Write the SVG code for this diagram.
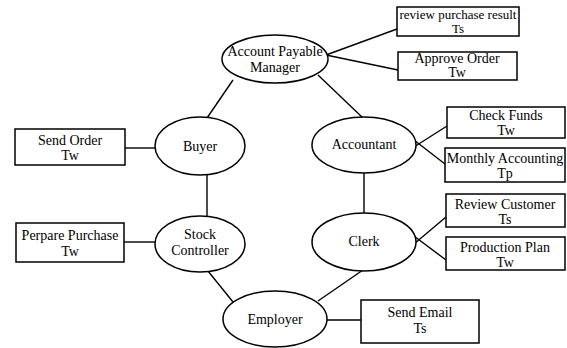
<svg xmlns="http://www.w3.org/2000/svg" width="567" height="348" viewBox="0 0 567 348">
  <style>
    .role ellipse { fill: #fff; stroke: #000; stroke-width: 1.5; }
    .task rect { fill: #fff; stroke: #000; stroke-width: 1.5; }
    text { font-family: 'Liberation Serif', 'DejaVu Serif', 'Times New Roman', serif; font-size: 14px; fill: #000; text-anchor: middle; }
    .sm { font-size: 13px; }
    #connectors line { stroke: #000; stroke-width: 1.4; }
  </style>
  <rect width="567" height="348" fill="#fff"/>

  <!-- connectors between roles and their tasks -->
  <g id="connectors">
    <line x1="326" y1="55" x2="397" y2="29"/>
    <line x1="326" y1="55" x2="398" y2="70"/>
    <line x1="233" y1="80" x2="207" y2="118"/>
    <line x1="318" y1="75" x2="363" y2="118"/>
    <line x1="125" y1="148" x2="156" y2="148"/>
    <line x1="207" y1="175" x2="207" y2="217"/>
    <line x1="124" y1="242" x2="156" y2="242"/>
    <line x1="208" y1="271" x2="233" y2="302"/>
    <line x1="363" y1="270" x2="318" y2="301"/>
    <line x1="327" y1="320" x2="361" y2="320"/>
    <line x1="364" y1="173" x2="364" y2="214"/>
    <line x1="414" y1="147" x2="447" y2="126"/>
    <line x1="414" y1="140" x2="445" y2="164"/>
    <line x1="414" y1="244" x2="446" y2="217"/>
    <line x1="414" y1="236" x2="446" y2="260"/>
  </g>

  <!-- roles -->
  <g id="account-payable-manager" class="role">
    <ellipse cx="275" cy="59" rx="53" ry="24"/>
    <text x="275" y="56">Account Payable</text>
    <text x="275" y="72">Manager</text>
  </g>
  <g id="buyer" class="role">
    <ellipse cx="200" cy="146" rx="45" ry="29"/>
    <text x="200" y="151">Buyer</text>
  </g>
  <g id="stock-controller" class="role">
    <ellipse cx="200" cy="244" rx="45" ry="28"/>
    <text x="200" y="239">Stock</text>
    <text x="200" y="255">Controller</text>
  </g>
  <g id="accountant" class="role">
    <ellipse cx="364" cy="145" rx="52" ry="28"/>
    <text x="364" y="149">Accountant</text>
  </g>
  <g id="clerk" class="role">
    <ellipse cx="364" cy="242" rx="52" ry="29"/>
    <text x="364" y="246">Clerk</text>
  </g>
  <g id="employer" class="role">
    <ellipse cx="275" cy="319" rx="52" ry="28"/>
    <text x="275" y="324">Employer</text>
  </g>

  <!-- tasks -->
  <g id="review-purchase-result" class="task">
    <rect x="397" y="7" width="122" height="29"/>
    <text class="sm" x="458" y="19">review purchase result</text>
    <text class="sm" x="458" y="33">Ts</text>
  </g>
  <g id="approve-order" class="task">
    <rect x="398" y="52" width="119" height="28"/>
    <text x="457" y="63">Approve Order</text>
    <text x="457" y="77">Tw</text>
  </g>
  <g id="check-funds" class="task">
    <rect x="447" y="107" width="118" height="31"/>
    <text x="506" y="120">Check Funds</text>
    <text x="506" y="135">Tw</text>
  </g>
  <g id="monthly-accounting" class="task">
    <rect x="445" y="148" width="120" height="34"/>
    <text x="505" y="163">Monthly Accounting</text>
    <text x="505" y="178">Tp</text>
  </g>
  <g id="review-customer" class="task">
    <rect x="446" y="194" width="119" height="33"/>
    <text x="505" y="209">Review Customer</text>
    <text x="505" y="224">Ts</text>
  </g>
  <g id="production-plan" class="task">
    <rect x="446" y="237" width="119" height="33"/>
    <text x="505" y="252">Production Plan</text>
    <text x="505" y="267">Tw</text>
  </g>
  <g id="send-order" class="task">
    <rect x="15" y="129" width="110" height="36"/>
    <text x="70" y="145">Send Order</text>
    <text x="70" y="160">Tw</text>
  </g>
  <g id="perpare-purchase" class="task">
    <rect x="16" y="223" width="108" height="39"/>
    <text x="70" y="240">Perpare Purchase</text>
    <text x="70" y="256">Tw</text>
  </g>
  <g id="send-email" class="task">
    <rect x="361" y="300" width="118" height="43"/>
    <text x="420" y="317">Send Email</text>
    <text x="420" y="333">Ts</text>
  </g>
</svg>
